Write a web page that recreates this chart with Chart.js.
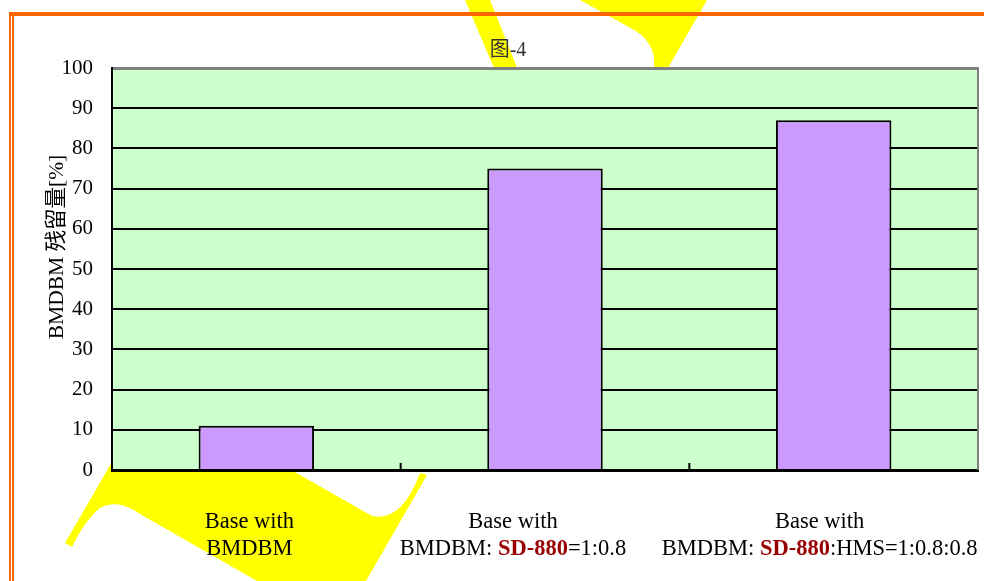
<!DOCTYPE html>
<html>
<head>
<meta charset="utf-8">
<script src="https://cdn.jsdelivr.net/npm/chart.js@4/dist/chart.umd.min.js"></script>
<style>
	html, body { margin: 0; padding: 0; background: #fff; }
	#wrap { width: 984px; height: 581px; position: relative; }
</style>
</head>
<body>
<div id="wrap"><canvas id="chart"></canvas></div>
<script>
// chart data
const categories = ["Base with\nBMDBM", "Base with\nBMDBM: SD-880=1:0.8", "Base with\nBMDBM: SD-880:HMS=1:0.8:0.8"];
const residue = [11, 75, 87];
const yTicks = [0, 10, 20, 30, 40, 50, 60, 70, 80, 90, 100];
const chartTitle = "图-4";
const yTitle = "BMDBM 残留量[%]";
const highlight = "SD-880";

// label shifts (layout only)
const labelShift = [-7, -32, -14];

const serif = "'Liberation Serif', 'Times New Roman', 'Noto Sans CJK SC', serif";

// yellow scribble behind the chart + orange frame + green plot background
const backdrop = {
	id: "backdrop",
	beforeDraw(chart) {
		const ctx = chart.ctx;
		const a = chart.chartArea;
		ctx.save();
		ctx.fillStyle = "#FFFF00";
		// strand near title
		ctx.beginPath();
		ctx.moveTo(465, 0);
		ctx.lineTo(490, 0);
		ctx.lineTo(520, 75);
		ctx.lineTo(497, 75);
		ctx.closePath();
		ctx.fill();
		// wedge at top right of title
		ctx.beginPath();
		ctx.moveTo(580, 0);
		ctx.lineTo(707, 0);
		ctx.lineTo(664, 75);
		ctx.lineTo(654, 75);
		ctx.lineTo(654, 58);
		ctx.quadraticCurveTo(652, 42, 636, 31);
		ctx.closePath();
		ctx.fill();
		// ribbon below the axis
		ctx.beginPath();
		ctx.moveTo(65, 543);
		ctx.lineTo(112, 462);
		ctx.lineTo(293, 462);
		ctx.lineTo(293, 471);
		ctx.lineTo(372, 516);
		ctx.quadraticCurveTo(402, 522, 420, 473);
		ctx.lineTo(427, 475);
		ctx.lineTo(366, 581);
		ctx.lineTo(257, 581);
		ctx.lineTo(140, 514);
		ctx.quadraticCurveTo(118, 498, 100, 508);
		ctx.quadraticCurveTo(85, 520, 72, 547);
		ctx.closePath();
		ctx.fill();

		// orange frame
		ctx.fillStyle = "#FF6600";
		ctx.fillRect(9, 12, 975, 4);
		ctx.fillRect(9, 12, 2, 569);
		ctx.fillRect(12, 15, 2, 566);

		// plot area
		ctx.fillStyle = "#CCFFCC";
		ctx.fillRect(a.left, a.top, a.right - a.left, a.bottom - a.top);
		ctx.restore();
	},
	afterDraw(chart) {
		const ctx = chart.ctx;
		const a = chart.chartArea;
		const xs = chart.scales.x;
		ctx.save();
		// right border
		ctx.strokeStyle = "#808080";
		ctx.lineWidth = 2;
		ctx.beginPath();
		ctx.moveTo(a.right, a.top - 1);
		ctx.lineTo(a.right, a.bottom);
		ctx.stroke();
		// inside tick marks between categories
		ctx.strokeStyle = "#000";
		ctx.lineWidth = 2;
		for (let i = 1; i < categories.length; i++) {
			const x = (xs.getPixelForValue(i - 1) + xs.getPixelForValue(i)) / 2;
			ctx.beginPath();
			ctx.moveTo(x, a.bottom);
			ctx.lineTo(x, a.bottom - 7);
			ctx.stroke();
		}

		// title
		ctx.fillStyle = "#333";
		ctx.font = "20px " + serif;
		ctx.textAlign = "center";
		ctx.textBaseline = "middle";
		ctx.fillText(chartTitle, 508, 51);

		// y axis title
		ctx.save();
		ctx.translate(57, 247);
		ctx.rotate(-Math.PI / 2);
		ctx.fillStyle = "#000";
		ctx.font = "21.5px " + serif;
		ctx.fillText(yTitle, 0, 0);
		ctx.restore();

		// category labels, with the product name in bold red
		ctx.textBaseline = "alphabetic";
		categories.forEach((cat, i) => {
			const cx = xs.getPixelForValue(i) + labelShift[i];
			cat.split("\n").forEach((line, j) => {
				const y = 528 + j * 27;
				const parts = line.split(highlight);
				const runs = [];
				parts.forEach((p, k) => {
					if (p) runs.push({ t: p, bold: false });
					if (k < parts.length - 1) runs.push({ t: highlight, bold: true });
				});
				let total = 0;
				runs.forEach((r) => {
					ctx.font = (r.bold ? "bold " : "") + "22.5px " + serif;
					r.w = ctx.measureText(r.t).width;
					total += r.w;
				});
				let x = cx - total / 2;
				ctx.textAlign = "left";
				runs.forEach((r) => {
					ctx.font = (r.bold ? "bold " : "") + "22.5px " + serif;
					ctx.fillStyle = r.bold ? "#990000" : "#000";
					ctx.fillText(r.t, x, y);
					x += r.w;
				});
			});
		});
		ctx.restore();
	},
};

const ctx = document.getElementById("chart").getContext("2d");
const chart = new Chart(ctx, {
	type: "bar",
	data: {
		labels: categories,
		datasets: [
			{
				data: residue,
				backgroundColor: "#CC99FF",
				borderColor: "#000",
				borderWidth: 2,
				barPercentage: 0.4,
				categoryPercentage: 1,
			},
		],
	},
	options: {
		responsive: true,
		maintainAspectRatio: false,
		animation: false,
		layout: { padding: { left: 0, top: 68, right: 6, bottom: 0 } },
		plugins: {
			legend: { display: false },
			tooltip: { enabled: false },
			title: { display: false },
		},
		scales: {
			x: {
				grid: { display: false },
				border: { color: "#000", width: 3 },
				ticks: { display: false },
				afterFit(scale) {
					scale.height = 111;
				},
			},
			y: {
				min: 0,
				max: 100,
				afterBuildTicks(scale) {
					scale.ticks = yTicks.map((v) => ({ value: v }));
				},
				afterFit(scale) {
					scale.width = 112;
				},
				border: { color: "#000", width: 2 },
				grid: {
					color: (c) => (c.tick && c.tick.value === 100 ? "#808080" : "#000"),
					lineWidth: (c) => (c.tick && c.tick.value === 100 ? 3 : 2),
					drawTicks: false,
				},
				ticks: {
					padding: 19,
					color: "#000",
					font: { family: serif, size: 21 },
				},
			},
		},
	},
	plugins: [backdrop],
});
</script>
</body>
</html>
